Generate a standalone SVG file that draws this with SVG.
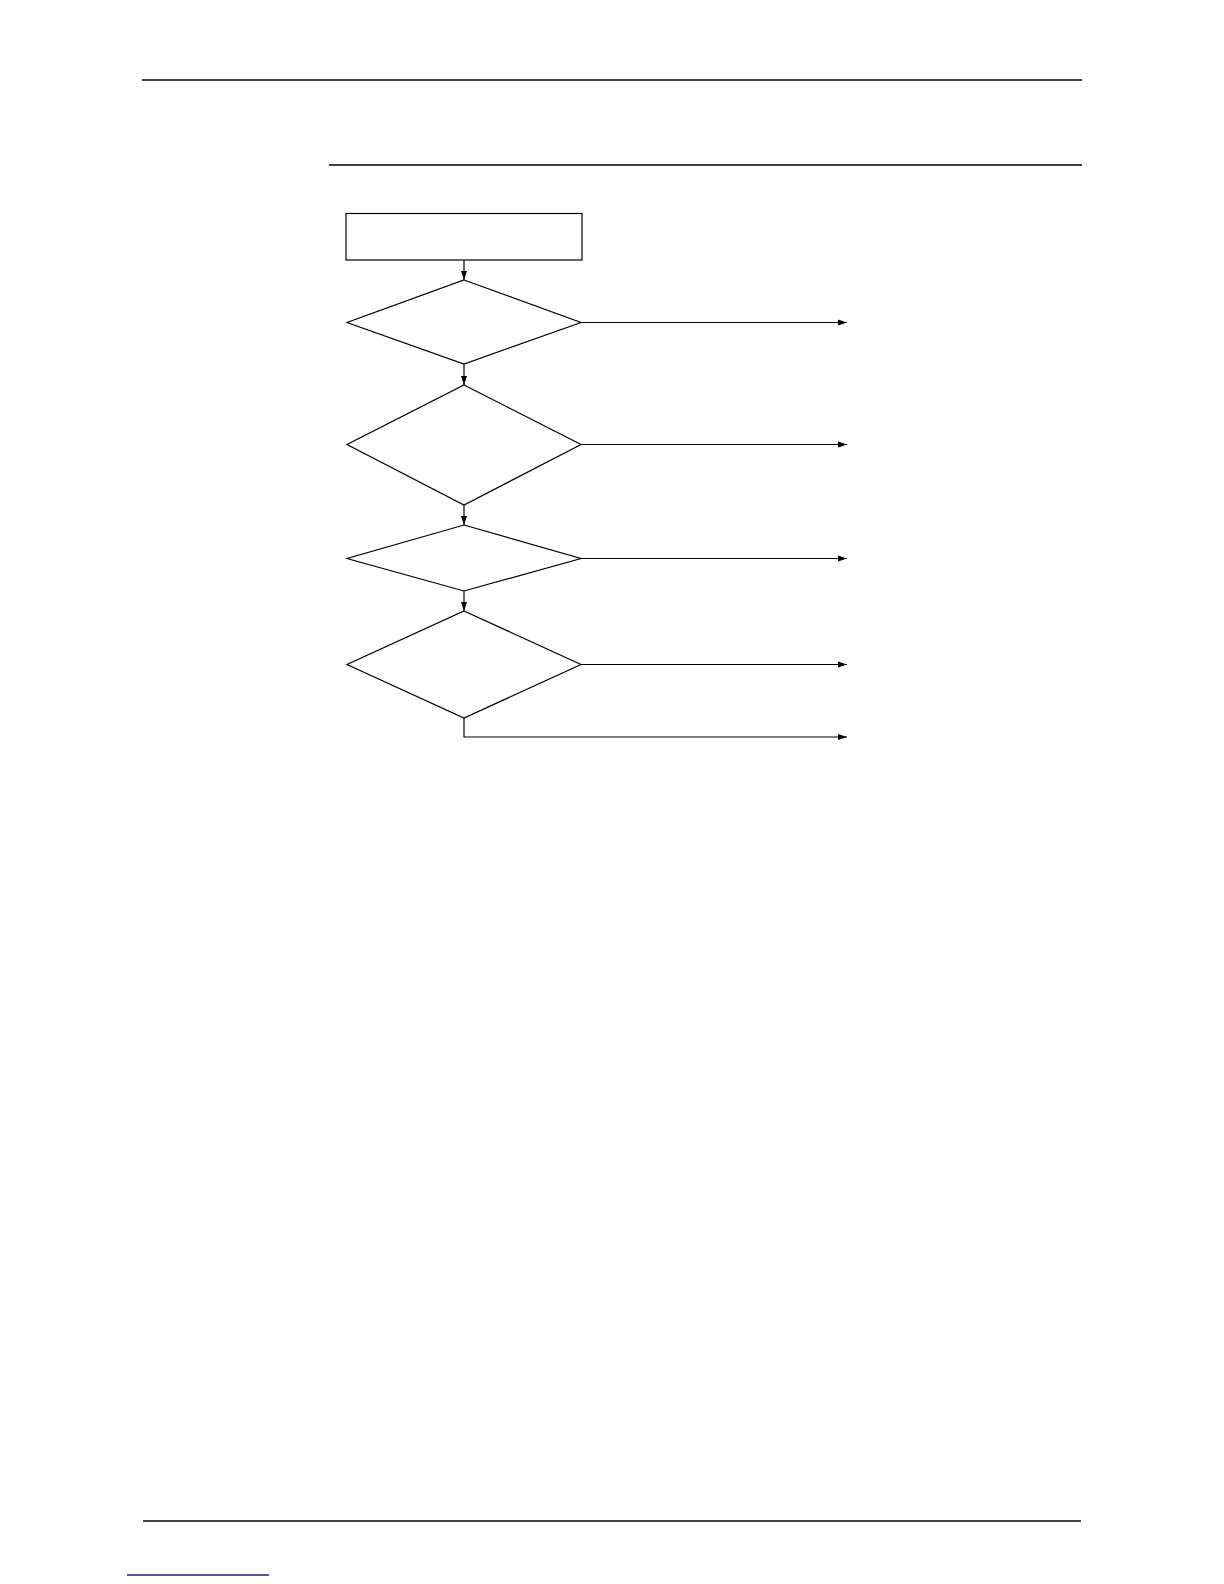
<svg xmlns="http://www.w3.org/2000/svg" width="1224" height="1584" viewBox="0 0 1224 1584">
  <style>
    .rule { stroke: #000; stroke-width: 1.6; fill: none; }
    .shape { stroke: #000; stroke-width: 1.2; fill: #fff; }
    .conn { stroke: #000; stroke-width: 1.2; fill: none; }
  </style>
  <defs>
    <marker id="arr" markerWidth="10" markerHeight="7" refX="9" refY="3.5" orient="auto" markerUnits="userSpaceOnUse">
      <path d="M0,0.5 L9,3.5 L0,6.5 Z" fill="#000"/>
    </marker>
  </defs>
  <rect width="1224" height="1584" fill="#fff"/>
  <g id="page-rules">
    <line class="rule" x1="142" y1="80" x2="1082" y2="80"/>
    <line class="rule" x1="329" y1="165" x2="1082" y2="165"/>
    <line class="rule" x1="143" y1="1521" x2="1081" y2="1521"/>
    <line x1="127" y1="1575" x2="269" y2="1575" stroke="#1a1a8c" stroke-width="1.4"/>
  </g>
  <g id="connectors">
    <line class="conn" x1="464" y1="260" x2="464" y2="280" marker-end="url(#arr)"/>
    <line class="conn" x1="464" y1="364" x2="464" y2="385" marker-end="url(#arr)"/>
    <line class="conn" x1="464" y1="505" x2="464" y2="525" marker-end="url(#arr)"/>
    <line class="conn" x1="464" y1="591" x2="464" y2="611" marker-end="url(#arr)"/>
    <line class="conn" x1="581" y1="322.5" x2="847" y2="322.5" marker-end="url(#arr)"/>
    <line class="conn" x1="581" y1="444.5" x2="847" y2="444.5" marker-end="url(#arr)"/>
    <line class="conn" x1="581" y1="558.5" x2="847" y2="558.5" marker-end="url(#arr)"/>
    <line class="conn" x1="581" y1="664.5" x2="847" y2="664.5" marker-end="url(#arr)"/>
    <polyline class="conn" points="464,718 464,737 847,737" marker-end="url(#arr)"/>
  </g>
  <g id="start">
    <rect class="shape" x="346" y="213.5" width="236" height="46.5"/>
  </g>
  <g id="decision1">
    <polygon class="shape" points="464,280 581,322.5 464,364 347,322.5"/>
  </g>
  <g id="decision2">
    <polygon class="shape" points="464,385 581,444.5 464,505 347,444.5"/>
  </g>
  <g id="decision3">
    <polygon class="shape" points="464,525 581,558.5 464,591 347,558.5"/>
  </g>
  <g id="decision4">
    <polygon class="shape" points="464,611 581,664.5 464,718 347,664.5"/>
  </g>
</svg>
